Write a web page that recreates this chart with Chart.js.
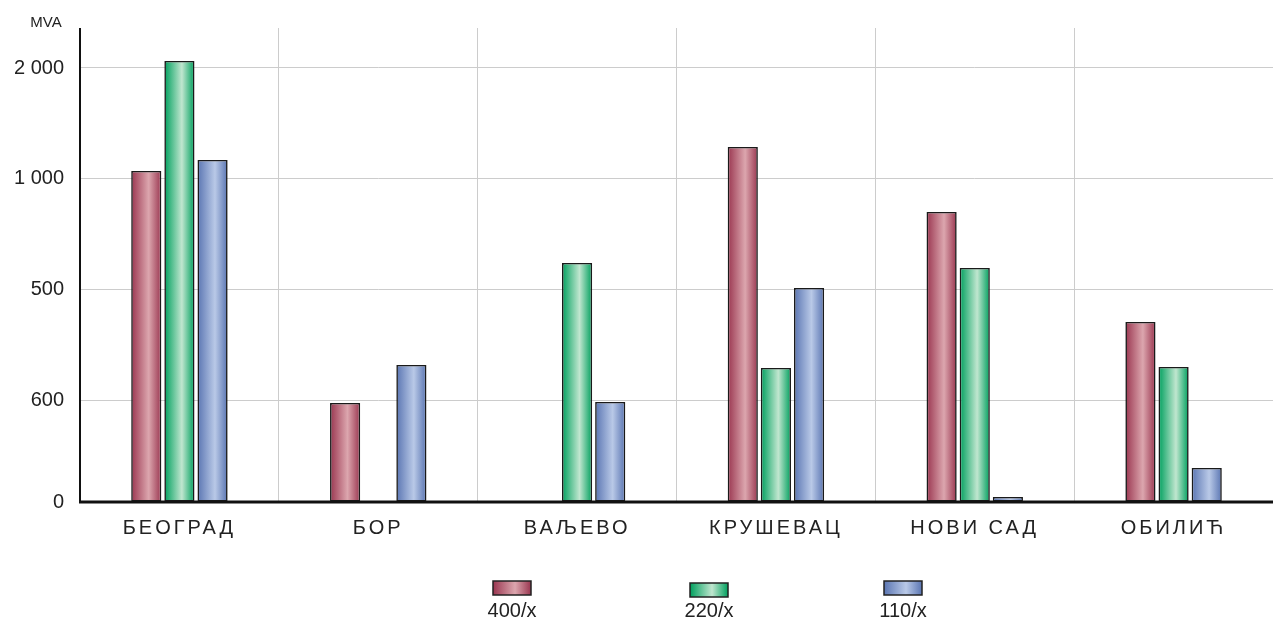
<!DOCTYPE html>
<html>
<head>
<meta charset="utf-8">
<script src="https://cdn.jsdelivr.net/npm/chart.js@4/dist/chart.umd.min.js"></script>
<style>
  html, body { margin: 0; padding: 0; background: #fff; }
  #wrap { width: 1273px; height: 621px; position: relative; }
</style>
</head>
<body>
<div id="wrap"><canvas id="myChart"></canvas></div>
<script>
// categories and series (values in axis units)
const categories = ['БЕОГРАД', 'БОР', 'ВАЉЕВО', 'КРУШЕВАЦ', 'НОВИ САД', 'ОБИЛИЋ'];
const s400 = [331, 99, null, 355, 290, 180];
const s220 = [441, null, 239, 134, 234, 135];
const s110 = [342, 137, 100, 214, 5, 34];

// the axis is labelled with these (odd) values at these positions
const tickPositions = [0, 102, 213, 324, 434];
const tickLabels = ['0', '600', '500', '1 000', '2 000'];
const axisMax = 474;

const seriesColors = {
    '400/x': ['#9a3650', '#dca6ae'],
    '220/x': ['#00a05e', '#c0e6cf'],
    '110/x': ['#5a75b2', '#b9c9e7']
};

const FONT = '"Liberation Sans", Arial, sans-serif';

function barGradient(ctx, x0, x1, c) {
    const g = ctx.createLinearGradient(x0, 0, x1, 0);
    g.addColorStop(0, c[0]);
    g.addColorStop(0.58, c[1]);
    g.addColorStop(1, c[0]);
    return g;
}

const gradientBars = {
    id: 'gradientBars',
    beforeDatasetsDraw(chart) {
        const ctx = chart.ctx;
        chart.data.datasets.forEach((ds, i) => {
            const meta = chart.getDatasetMeta(i);
            meta.data.forEach(el => {
                const x0 = el.x - el.width / 2;
                el.options.backgroundColor = barGradient(ctx, x0, x0 + el.width, seriesColors[ds.label]);
            });
        });
    },
    // x tick labels are drawn after the datasets (ticks.z = 1), spaced out like the original
    afterDatasetsDraw(chart) {
        chart.ctx.letterSpacing = '3px';
    }
};

const extras = {
    id: 'extras',
    afterDraw(chart) {
        const ctx = chart.ctx;
        ctx.letterSpacing = '0px';
        const area = chart.chartArea;
        ctx.save();
        // axis lines
        ctx.strokeStyle = '#111';
        ctx.lineWidth = 2;
        ctx.beginPath();
        ctx.moveTo(area.left, area.top);
        ctx.lineTo(area.left, area.bottom);
        ctx.stroke();
        ctx.lineWidth = 3;
        ctx.beginPath();
        ctx.moveTo(area.left - 1, area.bottom);
        ctx.lineTo(area.right, area.bottom);
        ctx.stroke();

        // unit label
        ctx.fillStyle = '#222';
        ctx.font = '15px ' + FONT;
        ctx.textAlign = 'center';
        ctx.textBaseline = 'middle';
        ctx.fillText('MVA', 46, 23);

        // legend: box above, label below
        const legendX = [512, 709, 903];
        ctx.font = '20px ' + FONT;
        chart.data.datasets.forEach((ds, i) => {
            const cx = legendX[i];
            const top = i === 1 ? 583 : 581;
            const w = 38, h = 14;
            ctx.fillStyle = barGradient(ctx, cx - w / 2, cx + w / 2, seriesColors[ds.label]);
            ctx.fillRect(cx - w / 2, top, w, h);
            ctx.strokeStyle = '#222';
            ctx.lineWidth = 1.5;
            ctx.strokeRect(cx - w / 2, top, w, h);
            ctx.fillStyle = '#222';
            ctx.fillText(ds.label, cx, 611);
        });
        ctx.restore();
    }
};

document.addEventListener('DOMContentLoaded', () => {
    const ctx = document.getElementById('myChart').getContext('2d');

    const mkSet = (label, data) => ({
        label: label,
        data: data,
        backgroundColor: () => seriesColors[label][0],
        borderColor: '#1a1a1a',
        borderWidth: 1.6,
        borderSkipped: false,
        categoryPercentage: 0.5,
        barPercentage: 0.91
    });

    new Chart(ctx, {
        type: 'bar',
        data: {
            labels: categories,
            datasets: [
                mkSet('400/x', s400),
                mkSet('220/x', s220),
                mkSet('110/x', s110)
            ]
        },
        options: {
            responsive: true,
            maintainAspectRatio: false,
            animation: false,
            layout: { padding: { top: 28, left: 0, right: 0, bottom: 0 } },
            plugins: {
                legend: { display: false },
                tooltip: { enabled: false }
            },
            scales: {
                x: {
                    grid: { color: '#cccccc', lineWidth: 1, drawTicks: false, offset: true },
                    border: { display: false },
                    ticks: {
                        z: 1,
                        color: '#222',
                        padding: 14,
                        font: { family: FONT, size: 20 }
                    },
                    afterFit(scale) { scale.height = 119; }
                },
                y: {
                    min: 0,
                    max: axisMax,
                    grid: { color: '#cccccc', lineWidth: 1, drawTicks: false },
                    border: { display: false },
                    afterBuildTicks(scale) {
                        scale.ticks = tickPositions.map(v => ({ value: v }));
                    },
                    ticks: {
                        color: '#222',
                        padding: 16,
                        font: { family: FONT, size: 20 },
                        callback: (v) => tickLabels[tickPositions.indexOf(v)]
                    },
                    afterFit(scale) { scale.width = 80; }
                }
            }
        },
        plugins: [gradientBars, extras]
    });
});
</script>
</body>
</html>
